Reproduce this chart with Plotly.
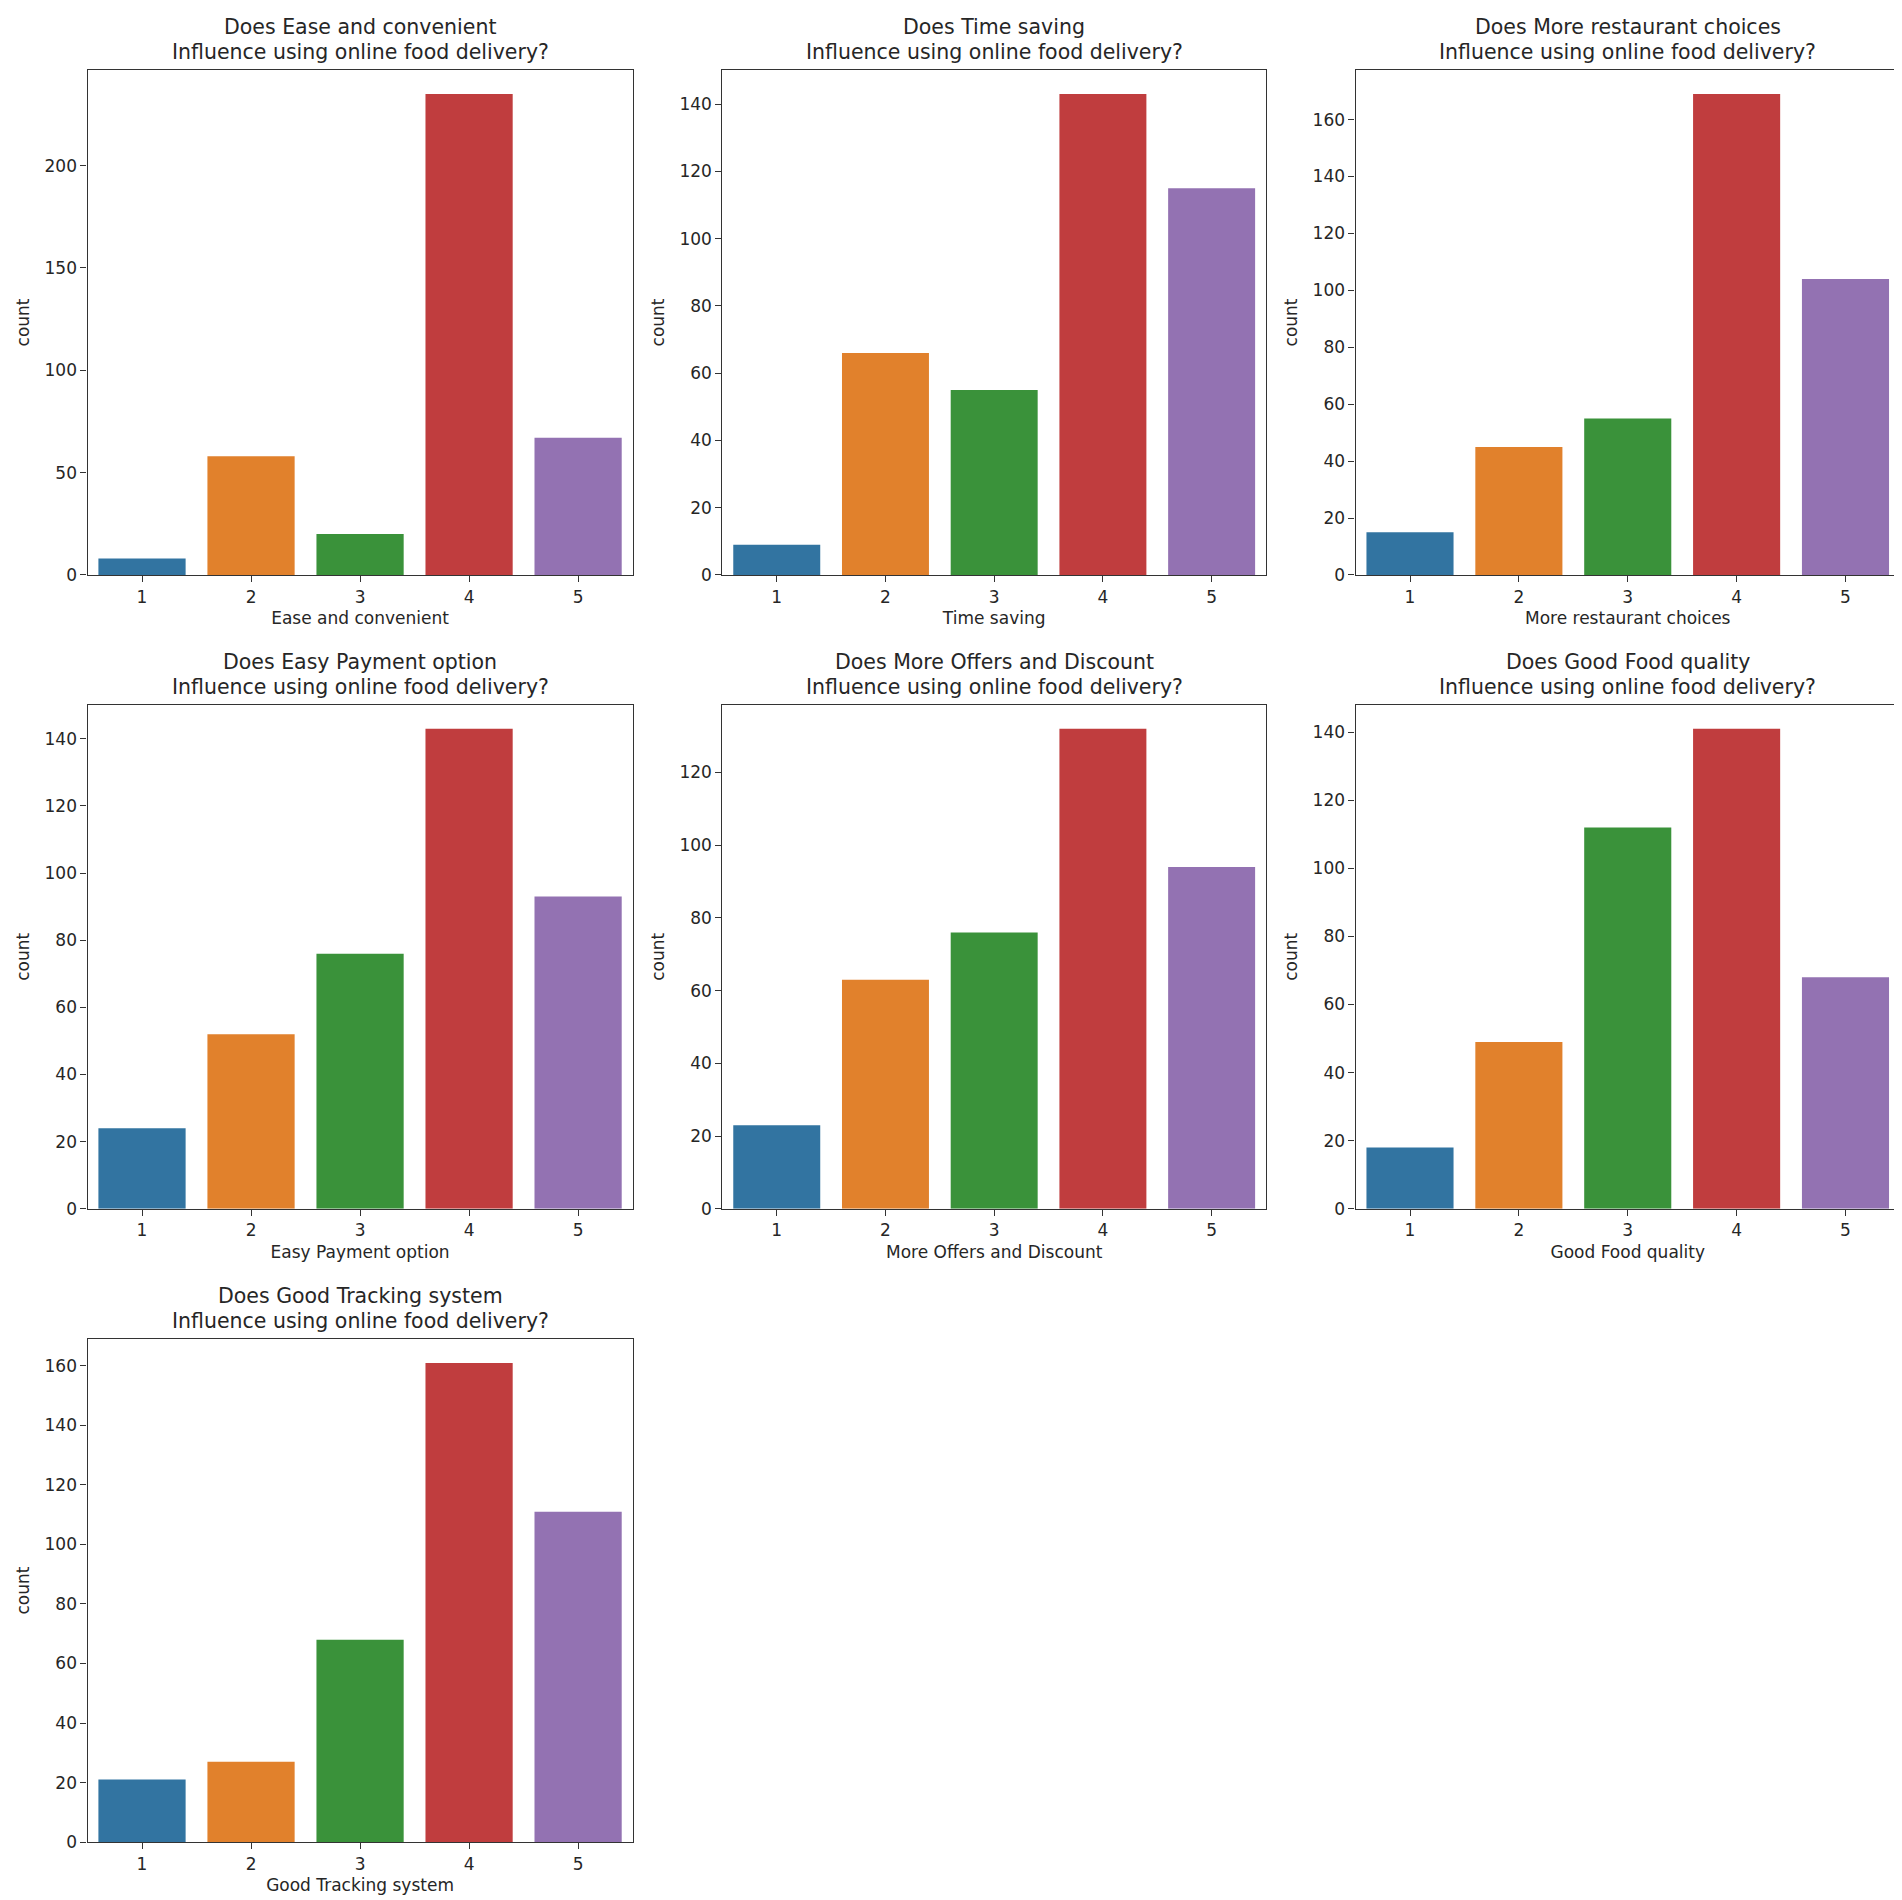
import plotly.graph_objects as go

categories = ["1", "2", "3", "4", "5"]
features = ["Ease and convenient", "Time saving", "More restaurant choices",
            "Easy Payment option", "More Offers and Discount", "Good Food quality",
            "Good Tracking system"]
ease_and_convenient = [8, 58, 20, 235, 67]
time_saving = [9, 66, 55, 143, 115]
more_restaurant_choices = [15, 45, 55, 169, 104]
easy_payment_option = [24, 52, 76, 143, 93]
more_offers_and_discount = [23, 63, 76, 132, 94]
good_food_quality = [18, 49, 112, 141, 68]
good_tracking_system = [21, 27, 68, 161, 111]
series = [ease_and_convenient, time_saving, more_restaurant_choices,
          easy_payment_option, more_offers_and_discount, good_food_quality,
          good_tracking_system]
dticks = [50, 20, 20, 20, 20, 20, 20]

colors = ["#3274a1", "#e1812c", "#3a923a", "#c03d3e", "#9372b2"]

x_domains = [[0.0418, 0.3284], [0.3756, 0.6614], [0.7085, 0.9947]]
y_domains = [[0.7016, 0.9674], [0.368, 0.6333], [0.0347, 0.2995]]

FONT = "DejaVu Sans"
TXT = "#262626"
AX = "#333333"

fig = go.Figure()
layout = dict(
    width=1902, height=1900, template="none",
    margin=dict(l=0, r=0, t=0, b=0),
    paper_bgcolor="white", plot_bgcolor="white",
    showlegend=False, bargap=0.2,
    font=dict(family=FONT, color=TXT, size=17),
    annotations=[],
)

for i, (feat, vals) in enumerate(zip(features, series)):
    n = i + 1
    r, c = divmod(i, 3)
    xa = "x" if n == 1 else f"x{n}"
    ya = "y" if n == 1 else f"y{n}"
    fig.add_trace(go.Bar(x=categories, y=vals, marker=dict(color=colors, line=dict(width=0)),
                         xaxis=xa, yaxis=ya, width=0.8))
    common = dict(showline=True, mirror=True, linecolor=AX, linewidth=1.3,
                  ticks="outside", ticklen=6, tickwidth=1.2, tickcolor=AX,
                  showgrid=False, zeroline=False,
                  tickfont=dict(family=FONT, size=17, color=TXT))
    layout[f"xaxis{n}"] = dict(common, domain=x_domains[c], anchor=ya,
                               type="category", range=[-0.5, 4.5],
                               title=dict(text=feat, standoff=6,
                                          font=dict(family=FONT, size=17, color=TXT)))
    layout[f"yaxis{n}"] = dict(common, domain=y_domains[r], anchor=xa,
                               range=[0, max(vals) * 1.05], dtick=dticks[i], tick0=0,
                               title=dict(text="count", standoff=10,
                                          font=dict(family=FONT, size=17, color=TXT)))
    layout["annotations"].append(dict(
        text=f"Does {feat}", xref=f"{xa} domain", yref=f"{ya} domain",
        x=0.5, y=1, xanchor="center", yanchor="middle", yshift=43, showarrow=False,
        font=dict(family=FONT, size=20.5, color=TXT)))
    layout["annotations"].append(dict(
        text="Influence using online food delivery?", xref=f"{xa} domain", yref=f"{ya} domain",
        x=0.5, y=1, xanchor="center", yanchor="middle", yshift=18, showarrow=False,
        font=dict(family=FONT, size=20.5, color=TXT)))

fig.update_layout(layout)
fig.write_html("out.html")
